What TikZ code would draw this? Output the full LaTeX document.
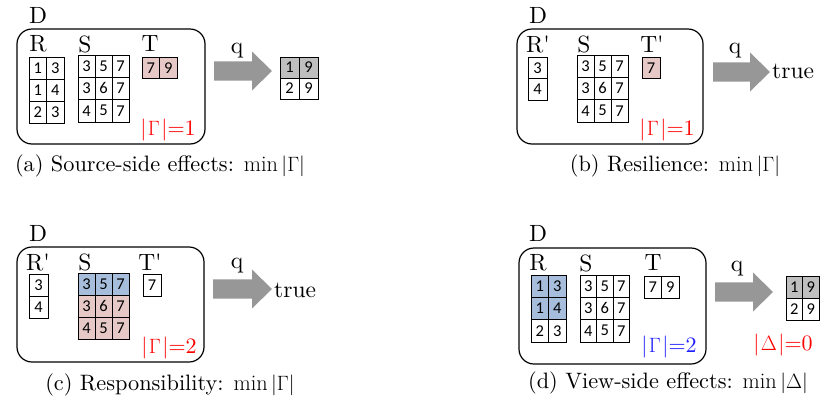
\documentclass[tikz,border=0pt]{standalone}
\usepackage{fontspec}
\newfontfamily\cellfont{Carlito}
\newfontfamily\tenrm{lmroman10-regular}[Extension=.otf]
\definecolor{pinkc}{HTML}{E6C9C6}
\definecolor{bluec}{HTML}{A6BEDC}
\definecolor{resgray}{HTML}{BFBFBF}
\definecolor{arrowgray}{HTML}{979797}
\definecolor{redt}{HTML}{FF0000}
\definecolor{bluet}{HTML}{1E1EFF}
\tikzset{
  cell/.style={draw, line width=0.6pt, inner sep=0pt, font=\cellfont\fontsize{16.5}{16.5}\selectfont},
  lbl/.style={font=\tenrm\fontsize{23.5}{23.5}\selectfont, inner sep=0pt},
  glbl/.style={font=\tenrm\fontsize{22}{22}\selectfont, inner sep=0pt},
  caplbl/.style={font=\tenrm\fontsize{22.3}{22.3}\selectfont, inner sep=0pt},
  dbox/.style={draw, line width=1.2pt, rounded corners=15pt},
  blockarrow/.style={fill=arrowgray},
}
\newcommand\prm{\textquotesingle}
\newcommand\gam[1]{|\kern1.5pt$\Gamma$\kern1.5pt|=#1}
\newcommand\mktab[6]{\foreach \cX/\rX/\vX/\fX in {#6}{\node[cell, fill=\fX, minimum width=#4pt, minimum height=#5pt] (#1-\cX-\rX) at ({#2+(\cX+0.5)*#4},{#3+(\rX+0.5)*#5}) {\vX};}}
\newcommand\mkarrow[3]{\fill[blockarrow] (#1,{#3-9.6}) -- ({#2-20},{#3-9.6}) -- ({#2-20},{#3-19.5}) -- (#2,#3) -- ({#2-20},{#3+19.5}) -- ({#2-20},{#3+9.6}) -- (#1,{#3+9.6}) -- cycle;}
\begin{document}
\begin{tikzpicture}[x=1pt,y=-1pt]
\useasboundingbox (0,0) rectangle (831,405);
% ---------- (a)
\node[lbl] (aD) at (38,15) {D};
\draw[dbox] (17,29) rectangle (205,144);
\node[lbl] (aRl) at (38,44) {R};
\node[lbl] (aSl) at (85,44) {S};
\node[lbl] (aTl) at (150,44) {T};
\mktab{aR}{29}{57}{17.5}{22}{0/0/1/white,1/0/3/white,0/1/1/white,1/1/4/white,0/2/2/white,1/2/3/white}
\mktab{aS}{78}{55}{17}{22.3}{0/0/3/white,1/0/5/white,2/0/7/white,0/1/3/white,1/1/6/white,2/1/7/white,0/2/4/white,1/2/5/white,2/2/7/white}
\mktab{aT}{142}{57}{17.5}{21.5}{0/0/7/pinkc,1/0/9/pinkc}
\node[glbl, text=redt] (aG) at (168,130) {\gam{1}};
\mkarrow{214}{272}{71}
\node[lbl] (aq) at (237,51) {q};
\mktab{aO}{280}{57}{19}{21}{0/0/1/resgray,1/0/9/resgray,0/1/2/white,1/1/9/white}
\node[caplbl] (acap) at (160,166) {(a) Source-side effects: $\min|\Gamma|$};
% ---------- (b)
\node[lbl] (bD) at (538,15) {D};
\draw[dbox] (517,29) rectangle (703,144);
\node[lbl] (bRl) at (538,44) {R\prm};
\node[lbl] (bSl) at (584,44) {S};
\node[lbl] (bTl) at (652,44) {T\prm};
\mktab{bR}{528}{57}{19}{21.5}{0/0/3/white,0/1/4/white}
\mktab{bS}{577}{55}{17}{22.3}{0/0/3/white,1/0/5/white,2/0/7/white,0/1/3/white,1/1/6/white,2/1/7/white,0/2/4/white,1/2/5/white,2/2/7/white}
\mktab{bT}{642}{57}{18}{21.5}{0/0/7/pinkc}
\node[glbl, text=redt] (bG) at (667,130) {\gam{1}};
\mkarrow{713}{770}{72}
\node[lbl] (bq) at (735,51) {q};
\node[lbl, anchor=west] (btrue) at (772,71.5) {true};
\node[caplbl] (bcap) at (675,166) {(b) Resilience: $\min|\Gamma|$};
% ---------- (c)
\node[lbl] (cD) at (38,233) {D};
\draw[dbox] (17,247) rectangle (204,362);
\node[lbl] (cRl) at (38,262) {R\prm};
\node[lbl] (cSl) at (85,262) {S};
\node[lbl] (cTl) at (150,262) {T\prm};
\mktab{cR}{29}{274}{19}{22}{0/0/3/white,0/1/4/white}
\mktab{cS}{78}{273}{17}{22}{0/0/3/bluec,1/0/5/bluec,2/0/7/bluec,0/1/3/pinkc,1/1/6/pinkc,2/1/7/pinkc,0/2/4/pinkc,1/2/5/pinkc,2/2/7/pinkc}
\mktab{cT}{143}{274}{18}{22}{0/0/7/white}
\node[glbl, text=redt] (cG) at (169,348) {\gam{2}};
\mkarrow{213}{272}{289}
\node[lbl] (cq) at (237,266) {q};
\node[lbl, anchor=west] (ctrue) at (274,290) {true};
\node[caplbl] (ccap) at (170,385) {(c) Responsibility: $\min|\Gamma|$};
% ---------- (d)
\node[lbl] (dD) at (538,233) {D};
\draw[dbox] (519,248) rectangle (706,364);
\node[lbl] (dRl) at (538,263) {R};
\node[lbl] (dSl) at (586,263) {S};
\node[lbl] (dTl) at (653,263) {T};
\mktab{dR}{531}{275}{17.5}{22.3}{0/0/1/bluec,1/0/3/bluec,0/1/1/bluec,1/1/4/bluec,0/2/2/white,1/2/3/white}
\mktab{dS}{580}{275}{16.5}{22.3}{0/0/3/white,1/0/5/white,2/0/7/white,0/1/3/white,1/1/6/white,2/1/7/white,0/2/4/white,1/2/5/white,2/2/7/white}
\mktab{dT}{644}{276}{17.5}{22}{0/0/7/white,1/0/9/white}
\node[glbl, text=bluet] (dG) at (669,347) {\gam{2}};
\mkarrow{715}{773}{292}
\node[lbl] (dq) at (737,269) {q};
\mktab{dO}{786}{276}{16.5}{22}{0/0/1/resgray,1/0/9/resgray,0/1/2/white,1/1/9/white}
\node[glbl, text=redt] (dDelta) at (783,345) {|\kern1.5pt$\Delta$\kern1.5pt|=0};
\node[caplbl] (dcap) at (668,383) {(d) View-side effects: $\min|\Delta|$};
\end{tikzpicture}
\end{document}
